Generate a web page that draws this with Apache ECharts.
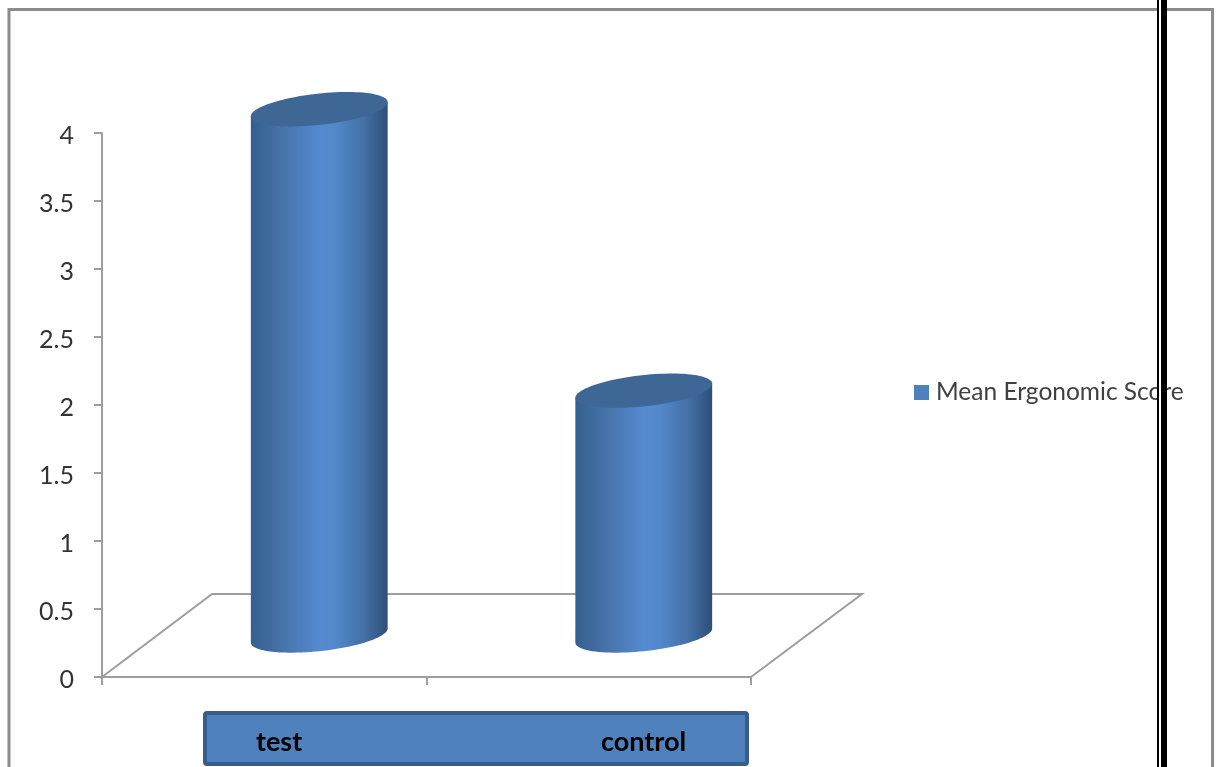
<!DOCTYPE html>
<html>
<head>
<meta charset="utf-8">
<style>html,body{margin:0;padding:0;background:#fff}#chart{width:1219px;height:767px}</style>
<script src="https://cdn.jsdelivr.net/npm/echarts@6/dist/echarts.min.js"></script>
</head>
<body>
<div id="chart"></div>
<script>
// Mean ergonomic score per group
const categories = ['test', 'control'];
const meanScores = [3.87, 1.8];
const seriesName = 'Mean Ergonomic Score';
const yTicks = { min: 0, max: 4, interval: 0.5 };

// Drawing constants for the pseudo-3D floor and the cylinders
const FLOOR_DX = 110, FLOOR_DY = 83;
const RADIUS_RATIO = 0.212, MINOR = 15.6, TILT = -6.2 * Math.PI / 180;
const AXIS_GREY = '#9e9e9e';

function ellipsePoint(cx, cy, a, t) {
  return [
    cx + a * Math.cos(t) * Math.cos(TILT) - MINOR * Math.sin(t) * Math.sin(TILT),
    cy + a * Math.cos(t) * Math.sin(TILT) + MINOR * Math.sin(t) * Math.cos(TILT)
  ];
}

function renderCylinder(params, api) {
  const base = api.coord([api.value(0), 0]);
  const top = api.coord([api.value(0), api.value(1)]);
  const band = api.size([1, 0])[0];
  const a = band * RADIUS_RATIO;
  const cx = base[0] + FLOOR_DX / 2;
  const yBase = base[1] - FLOOR_DY / 2;
  const yTop = top[1] - FLOOR_DY / 2;
  const t0 = Math.atan(-(MINOR / a) * Math.tan(TILT));
  const pts = [];
  for (let i = 0; i <= 48; i++) pts.push(ellipsePoint(cx, yBase, a, t0 + Math.PI * i / 48));
  pts.push(ellipsePoint(cx, yTop, a, t0 + Math.PI));
  pts.push(ellipsePoint(cx, yTop, a, t0));
  const lid = [];
  for (let i = 0; i < 96; i++) lid.push(ellipsePoint(cx, yTop, a, 2 * Math.PI * i / 96));
  return {
    type: 'group',
    children: [
      {
        type: 'polygon',
        shape: { points: pts },
        style: {
          fill: new echarts.graphic.LinearGradient(0, 0, 1, 0, [
            { offset: 0, color: '#33608f' },
            { offset: 0.22, color: '#4672a8' },
            { offset: 0.5, color: '#558ad0' },
            { offset: 0.62, color: '#5388cb' },
            { offset: 0.82, color: '#4471a6' },
            { offset: 1, color: '#2d4e77' }
          ])
        }
      },
      { type: 'polygon', shape: { points: lid }, style: { fill: '#3e6796' } }
    ]
  };
}

function renderFloor(params, api) {
  const g = params.coordSys;
  const x0 = g.x, x1 = g.x + g.width, yb = g.y + g.height;
  return {
    type: 'polyline',
    shape: { points: [
      [x0, yb], [x0 + FLOOR_DX, yb - FLOOR_DY],
      [x1 + FLOOR_DX + 1, yb - FLOOR_DY], [x1, yb]
    ] },
    style: { fill: 'none', stroke: AXIS_GREY, lineWidth: 2 }
  };
}

// Category names sit in a filled box under the axis
const labelLefts = [256, 601];
const categoryText = categories.map((name, i) => ({
  type: 'text', left: labelLefts[i], top: 729, z: 20,
  style: { text: name, fill: '#000', font: 'bold 27px Lato' }
}));

const chart = echarts.init(document.getElementById('chart'), null, { renderer: 'canvas' });
chart.setOption({
  animation: false,
  backgroundColor: '#fff',
  grid: { left: 102, right: 468, top: 133, bottom: 90 },
  legend: {
    left: 909, top: 375,
    icon: 'rect', itemWidth: 15, itemHeight: 15, itemGap: 0,
    textStyle: { fontFamily: 'Lato', fontSize: 24.5, color: '#404040', padding: [0, 0, 0, 2] },
    data: [seriesName]
  },
  xAxis: {
    type: 'category',
    data: categories,
    boundaryGap: true,
    axisLine: { lineStyle: { color: AXIS_GREY, width: 2 } },
    axisTick: { show: true, alignWithLabel: false, length: 8, lineStyle: { color: AXIS_GREY, width: 2 } },
    axisLabel: { show: false }
  },
  yAxis: {
    type: 'value',
    min: yTicks.min, max: yTicks.max, interval: yTicks.interval,
    splitLine: { show: false },
    axisLine: { show: true, lineStyle: { color: AXIS_GREY, width: 2 } },
    axisTick: { show: true, length: 8, lineStyle: { color: AXIS_GREY, width: 2 } },
    axisLabel: { fontFamily: 'Lato', fontSize: 25, color: '#333', margin: 28, verticalAlign: 'top', lineHeight: 6 }
  },
  series: [
    { type: 'custom', silent: true, renderItem: renderFloor, data: [[0]], z: 1, encode: { x: 0 } },
    {
      type: 'custom', name: seriesName, z: 2,
      itemStyle: { color: '#4f81bd' },
      renderItem: renderCylinder,
      encode: { x: 0, y: 1 },
      data: meanScores.map((v, i) => [i, v]),
      clip: false
    }
  ],
  graphic: [
    { type: 'rect', z: 0, silent: true, shape: { x: 9, y: 9.5, width: 1203.5, height: 800 },
      style: { fill: 'none', stroke: '#8c8c8c', lineWidth: 3 } },
    { type: 'rect', z: 19, silent: true, shape: { x: 205, y: 713, width: 542, height: 51, r: 2 },
      style: { fill: '#4f81bd', stroke: '#385d8a', lineWidth: 4 } },
    ...categoryText,
    { type: 'rect', z: 30, silent: true, shape: { x: 1157, y: 0, width: 2, height: 767 }, style: { fill: '#000' } },
    { type: 'rect', z: 30, silent: true, shape: { x: 1159, y: 0, width: 2, height: 767 }, style: { fill: '#fff' } },
    { type: 'rect', z: 30, silent: true, shape: { x: 1161, y: 0, width: 6, height: 767 }, style: { fill: '#000' } }
  ]
});
</script>
</body>
</html>
